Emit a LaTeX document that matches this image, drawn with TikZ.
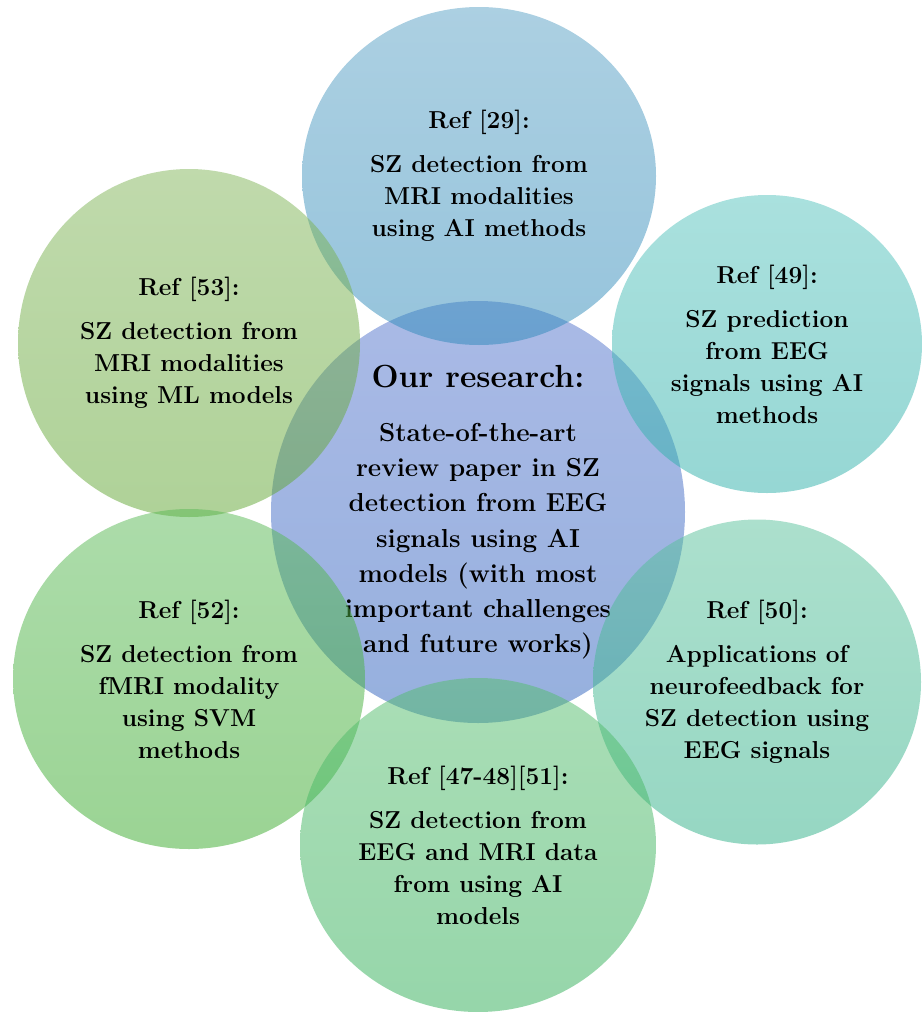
\documentclass[tikz,border=0pt]{standalone}
\usepackage{xcolor}
\usepackage{tikz}
\usetikzlibrary{shapes.geometric}
\definecolor{skytop}{RGB}{89,161,197}
\definecolor{skybot}{RGB}{45,137,185}
\definecolor{coretop}{RGB}{85,117,205}
\definecolor{corebot}{RGB}{45,97,189}
\definecolor{olivetop}{RGB}{129,181,89}
\definecolor{olivebot}{RGB}{95,165,49}
\definecolor{aquatop}{RGB}{85,195,189}
\definecolor{aquabot}{RGB}{45,175,169}
\definecolor{minttop}{RGB}{89,193,155}
\definecolor{mintbot}{RGB}{45,175,135}
\definecolor{leaftop}{RGB}{85,189,109}
\definecolor{leafbot}{RGB}{45,173,85}
\definecolor{grasstop}{RGB}{89,185,85}
\definecolor{grassbot}{RGB}{55,169,41}

\begin{document}
\begin{tikzpicture}[
    x=1pt, y=-1pt,
    bubble/.style={ellipse, inner sep=0pt, align=center, fill opacity=0.5, text opacity=1,
                font=\fontsize{24.5}{32}\selectfont\bfseries},
    core/.style={bubble, font=\fontsize{26}{35.2}\selectfont\bfseries}
]
\useasboundingbox (0,0) rectangle (922,1012);
\node[core, top color=coretop, bottom color=corebot, minimum width=414pt, minimum height=422pt] (research) at (478,512)
    {{\fontsize{32}{38}\selectfont Our research:}\\[19pt]
     State-of-the-art\\ review paper in SZ\\ detection from EEG\\ signals using AI\\
     models (with most\\ important challenges\\ and future works)};
\node[bubble, top color=skytop, bottom color=skybot, minimum width=354pt, minimum height=338pt] (ref29) at (479,176)
    {Ref [29]:\\[12pt] SZ detection from\\ MRI modalities\\ using AI methods};
\node[bubble, top color=olivetop, bottom color=olivebot, minimum width=342pt, minimum height=348pt] (ref53) at (189,343)
    {Ref [53]:\\[12pt] SZ detection from\\ MRI modalities\\ using ML models};
\node[bubble, top color=aquatop, bottom color=aquabot, minimum width=310pt, minimum height=298pt] (ref49) at (767,344)
    {Ref [49]:\\[12pt] SZ prediction\\ from EEG\\ signals using AI\\ methods};
\node[bubble, top color=grasstop, bottom color=grassbot, minimum width=352pt, minimum height=340pt] (ref52) at (189,679)
    {Ref [52]:\\[12pt] SZ detection from\\ fMRI modality\\ using SVM\\ methods};
\node[bubble, top color=minttop, bottom color=mintbot, minimum width=328pt, minimum height=325pt] (ref50) at (757,682)
    {Ref [50]:\\[12pt] Applications of\\ neurofeedback for\\ SZ detection using\\ EEG signals};
\node[bubble, top color=leaftop, bottom color=leafbot, minimum width=356pt, minimum height=334pt] (ref47) at (478,845)
    {Ref [47-48][51]:\\[12pt] SZ detection from\\ EEG and MRI data\\ from using AI\\ models};
\end{tikzpicture}
\end{document}
